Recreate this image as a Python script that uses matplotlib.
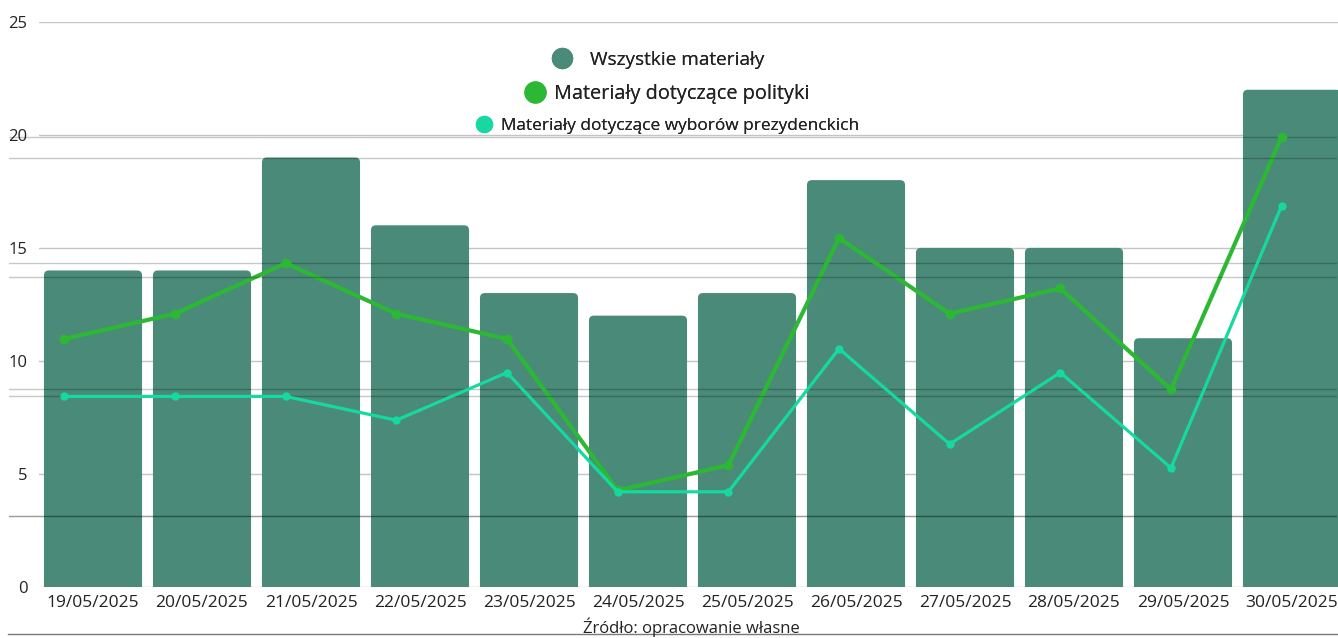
import numpy as np
import matplotlib.pyplot as plt
from matplotlib.patches import FancyBboxPatch
from matplotlib.lines import Line2D

plt.rcParams['font.family'] = ['Open Sans', 'DejaVu Sans']

# Dane: liczba materiałów w kolejnych dniach
dni = ["19/05/2025", "20/05/2025", "21/05/2025", "22/05/2025", "23/05/2025", "24/05/2025",
       "25/05/2025", "26/05/2025", "27/05/2025", "28/05/2025", "29/05/2025", "30/05/2025"]
wszystkie = [14, 14, 19, 16, 13, 12, 13, 18, 15, 15, 11, 22]
polityka = [7, 8, 10, 8, 7, 1, 2, 11, 8, 9, 5, 15]
wybory = [5, 5, 5, 4, 6, 1, 1, 7, 3, 6, 2, 13]

etykiety = ["Wszystkie materiały", "Materiały dotyczące polityki",
            "Materiały dotyczące wyborów prezydenckich"]

kolor_slupki = "#4a8a78"
kolor_polityka = "#2cb834"
kolor_wybory = "#15d9a0"

W, H = 1338, 638
fig = plt.figure(figsize=(W / 100, H / 100), dpi=100)

x = np.arange(len(dni))

# --- Słupki: wszystkie materiały ---
ax = fig.add_axes([38.5 / W, 51.3 / H, 1308 / W, 564.7 / H])
slupki = ax.bar(x, wszystkie, width=0.9, color=kolor_slupki)
for b in slupki:
    # zaokrąglone górne rogi (dół chowa się pod osią)
    b.set_visible(False)
    ax.add_patch(FancyBboxPatch((b.get_x(), -2), b.get_width(), b.get_height() + 2,
                                boxstyle="round,pad=0,rounding_size=0.045",
                                mutation_aspect=4.9, facecolor=kolor_slupki,
                                edgecolor="none", zorder=2))
ax.set_xlim(-0.5, 11.5)
ax.set_ylim(0, 25)
ax.set_yticks([0, 5, 10, 15, 20, 25])
ax.set_xticks(x)
ax.set_xticklabels(dni)
ax.tick_params(axis="x", length=0, labelsize=12.5, pad=6, labelcolor="#222222")
ax.tick_params(axis="y", length=0, labelsize=12, pad=8, labelcolor="#222222")
ax.grid(axis="y", color="#c4c4c4", linewidth=1)
ax.set_axisbelow(True)
for s in ax.spines.values():
    s.set_visible(False)


def os_linii(ylim):
    a = fig.add_axes([9 / W, 51.3 / H, 1328 / W, 564.7 / H])
    a.set_facecolor("none")
    a.set_xlim(-0.5, 11.5)
    a.set_ylim(*ylim)
    a.set_xticks([])
    a.set_yticks([0, 5, 10, 15])
    a.set_yticklabels([])
    a.tick_params(length=0)
    a.grid(axis="y", color="black", alpha=0.22, linewidth=1)
    for s in a.spines.values():
        s.set_visible(False)
    return a


# --- Linia: materiały dotyczące polityki ---
ax_p = os_linii((-2.81, 19.55))
ax_p.plot(x, polityka, color=kolor_polityka, linewidth=3, marker="o", markersize=6)

# --- Linia: materiały dotyczące wyborów ---
ax_w = os_linii((-2.98, 20.70))
ax_w.plot(x, wybory, color=kolor_wybory, linewidth=2.3, marker="o", markersize=5)

# Legendy - każda seria osobno, wyśrodkowane
def legenda(etykieta, kolor, ms, fs, pad, cx, cy):
    uchwyt = Line2D([], [], marker="o", linestyle="none", markersize=ms, color=kolor)
    leg = fig.legend([uchwyt], [etykieta], loc="center", bbox_to_anchor=(cx / W, 1 - cy / H),
                     frameon=False, fontsize=fs, handlelength=1.0, handletextpad=pad,
                     borderpad=0, borderaxespad=0)
    for t in leg.get_texts():
        t.set_color("#222222")
    fig.add_artist(leg)


legenda(etykiety[0], kolor_slupki, 14.4, 13.7, 1.0, 658.5, 60)
legenda(etykiety[1], kolor_polityka, 15, 14.3, 0.45, 667.5, 94)
legenda(etykiety[2], kolor_wybory, 11.5, 12.4, 0.5, 667, 126)

# Stopka ze źródłem
fig.add_artist(Line2D([8 / W, 1], [1 - 634.3 / H] * 2, color="#7a7a7a", linewidth=1))
fig.text(691.5 / W, 1 - 633 / H, "Źródło: opracowanie własne", ha="center", va="baseline",
         fontsize=12, color="#222222")

fig.savefig("out.png", dpi=100)
